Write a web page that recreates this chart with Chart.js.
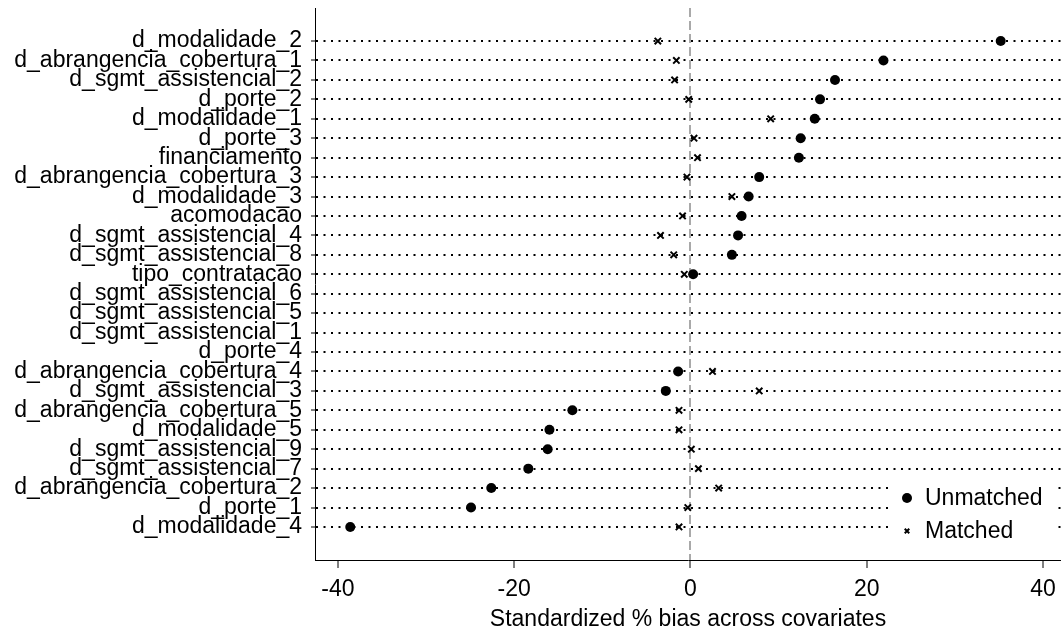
<!DOCTYPE html>
<html lang="en">
<head>
	<meta charset="UTF-8" />
	<title>Standardized bias</title>
	<script src="https://cdn.jsdelivr.net/npm/chart.js@4.4.1/dist/chart.umd.min.js"></script>
	<style>
		body { margin: 0; background: #fff; }
		#wrap { position: relative; width: 1061px; height: 633px; }
	</style>
</head>
<body>
	<div id="wrap">
		<canvas id="myChart"></canvas>
	</div>
<script>
	// covariates, top to bottom
	const covariates = [
		'd_modalidade_2', 'd_abrangencia_cobertura_1', 'd_sgmt_assistencial_2', 'd_porte_2',
		'd_modalidade_1', 'd_porte_3', 'financiamento', 'd_abrangencia_cobertura_3',
		'd_modalidade_3', 'acomodacao', 'd_sgmt_assistencial_4', 'd_sgmt_assistencial_8',
		'tipo_contratacao', 'd_sgmt_assistencial_6', 'd_sgmt_assistencial_5', 'd_sgmt_assistencial_1',
		'd_porte_4', 'd_abrangencia_cobertura_4', 'd_sgmt_assistencial_3', 'd_abrangencia_cobertura_5',
		'd_modalidade_5', 'd_sgmt_assistencial_9', 'd_sgmt_assistencial_7', 'd_abrangencia_cobertura_2',
		'd_porte_1', 'd_modalidade_4'
	];
	const unmatched = [35.2, 21.9, 16.4, 14.7, 14.1, 12.5, 12.3, 7.8, 6.6, 5.8, 5.4, 4.7, 0.3,
		null, null, null, null, -1.4, -2.8, -13.4, -16.0, -16.2, -18.4, -22.6, -24.9, -38.6];
	const matched = [-3.7, -1.6, -1.8, -0.2, 9.1, 0.4, 0.8, -0.4, 4.7, -0.9, -3.4, -1.9, -0.7,
		null, null, null, null, 2.5, 7.8, -1.3, -1.3, 0.1, 0.9, 3.2, -0.3, -1.3];
	const seriesNames = ['Unmatched', 'Matched'];
	const xTicks = [-40, -20, 0, 20, 40];
	const xTitle = 'Standardized % bias across covariates';

	function toPoints(vals) {
		const pts = [];
		vals.forEach((v, i) => {
			if (v !== null) pts.push({x: v, y: i});
		});
		return pts;
	}

	// legend box drawn inside the plot, bottom right
	const legendBox = {
		id: 'legendBox',
		afterDatasetsDraw(chart) {
			const ctx = chart.ctx;
			const a = chart.chartArea;
			const left = a.right - 171, top = a.bottom - 80;
			ctx.save();
			ctx.fillStyle = '#fff';
			ctx.fillRect(left, top, 165, 68);
			chart.data.datasets.forEach((ds, i) => {
				const y = top + 18 + i * 33;
				ctx.fillStyle = '#000';
				ctx.strokeStyle = '#000';
				ctx.lineWidth = ds.pointBorderWidth;
				Chart.helpers.drawPoint(ctx, {
					pointStyle: ds.pointStyle,
					radius: ds.pointStyle === 'circle' ? 5 : 3.2,
					rotation: 0,
					borderWidth: ds.pointBorderWidth
				}, left + 17, y);
				ctx.font = '23px "Liberation Sans", Arial, sans-serif';
				ctx.textAlign = 'left';
				ctx.textBaseline = 'middle';
				ctx.fillText(seriesNames[i], left + 35, y + 1);
			});
			ctx.restore();
		}
	};

	Chart.defaults.font.family = '"Liberation Sans", Arial, sans-serif';
	Chart.defaults.font.size = 23;
	Chart.defaults.color = '#000';

	const ctx = document.getElementById('myChart').getContext('2d');
	const chart = new Chart(ctx, {
		type: 'scatter',
		data: {
			datasets: [{
				label: seriesNames[0],
				data: toPoints(unmatched),
				pointStyle: 'circle',
				pointRadius: 5,
				pointBorderWidth: 0,
				backgroundColor: '#000',
				borderColor: '#000'
			}, {
				label: seriesNames[1],
				data: toPoints(matched),
				pointStyle: 'crossRot',
				pointRadius: 4.5,
				pointBorderWidth: 2,
				backgroundColor: '#000',
				borderColor: '#000'
			}]
		},
		options: {
			responsive: true,
			maintainAspectRatio: false,
			animation: false,
			layout: { autoPadding: false, padding: { top: 8, left: 0, right: 0, bottom: 0 } },
			plugins: {
				legend: { display: false },
				tooltip: { enabled: false }
			},
			scales: {
				x: {
					type: 'linear',
					min: -42.6,
					max: 42.04,
					afterBuildTicks: (scale) => { scale.ticks = xTicks.map(v => ({value: v})); },
					afterFit: (scale) => {
						scale.height = 73;
						scale.paddingLeft = 0;
						scale.paddingRight = 0;
					},
					ticks: { padding: 8, autoSkip: false, maxRotation: 0 },
					grid: {
						color: (c) => (c.tick && c.tick.value === 0) ? '#a9a9a9' : 'rgba(0,0,0,0)',
						lineWidth: 2,
						tickLength: 8,
						tickColor: '#000',
						tickWidth: 1,
						tickBorderDash: []
					},
					border: { display: true, color: '#000', width: 1, dash: [9, 4] },
					title: {
						display: true,
						text: xTitle,
						padding: { top: 0, bottom: 0 },
						font: { size: 23 }
					}
				},
				y: {
					type: 'linear',
					reverse: true,
					min: -1.7,
					max: covariates.length - 1 + 1.7,
					afterBuildTicks: (scale) => { scale.ticks = covariates.map((_, i) => ({value: i})); },
					afterFit: (scale) => {
						scale.width = 315;
						scale.paddingTop = 0;
						scale.paddingBottom = 0;
					},
					ticks: {
						autoSkip: false,
						padding: 9,
						callback: (v) => covariates[v]
					},
					grid: {
						color: '#000',
						lineWidth: 2,
						tickLength: 4,
						tickColor: '#000',
						tickWidth: 1,
						tickBorderDash: []
					},
					border: { display: true, color: '#000', width: 1, dash: [2, 5.5] }
				}
			}
		},
		plugins: [legendBox]
	});
</script>
</body>
</html>
